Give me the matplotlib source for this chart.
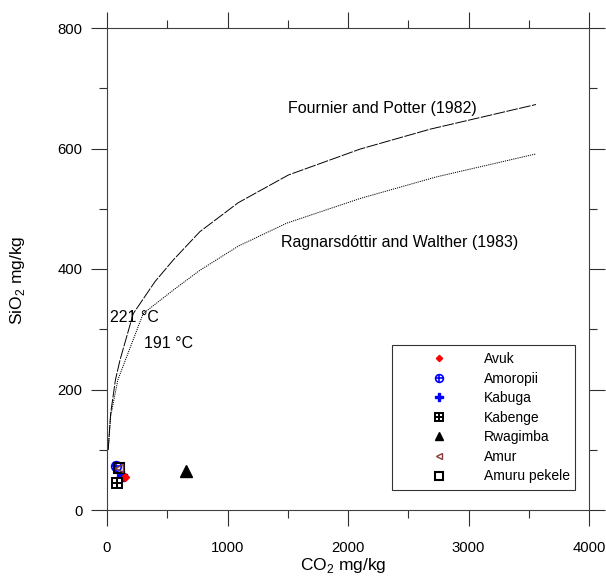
import matplotlib
matplotlib.use("Agg")
import matplotlib.pyplot as plt

plt.rcParams['font.family'] = ['Liberation Sans', 'DejaVu Sans']
plt.rcParams['mathtext.fontset'] = 'custom'
plt.rcParams['mathtext.rm'] = 'Liberation Sans'

# Curves (CO2 mg/kg vs SiO2 mg/kg)
fp_co2 = [10, 30, 70, 108, 218, 398, 550, 771, 1089, 1505, 2100, 2680, 3560]
fp_sio2 = [100, 160, 216, 249, 326, 379, 415, 462, 510, 556, 599, 632, 673]
rw_co2 = [10, 30, 90, 300, 550, 772, 1090, 1490, 2100, 2736, 3560]
rw_sio2 = [100, 155, 216, 326, 365, 398, 438, 476, 517, 553, 591]

# Sample points
avuk = (149, 54)
amoropii = (75, 73)
kabuga = (122, 57)
kabenge = (86, 45)
rwagimba = (656, 64)
amur = (100, 69)
amuru_pekele = (102, 69)

fig = plt.figure(figsize=(6.06, 5.76), dpi=100)
ax = fig.add_axes([107/606, 1-510/576, 482/606, 482/576])

ax.plot(fp_co2, fp_sio2, color='black', lw=0.7, dashes=(12, 1.5))
ax.plot(rw_co2, rw_sio2, color='black', lw=0.7, dashes=(1.2, 1.0))

ax.text(1502, 667, 'Fournier and Potter (1982)', fontsize=11.5, va='center', ha='left')
ax.text(1444, 444, 'Ragnarsdóttir and Walther (1983)', fontsize=11.5, va='center', ha='left')
ax.text(25, 319, '221 °C', fontsize=11.5, va='center', ha='left')
ax.text(310, 276, '191 °C', fontsize=11.5, va='center', ha='left')

h_kabuga, = ax.plot(*kabuga, linestyle='none', marker='P', ms=7, color='blue', mec='blue')
h_avuk, = ax.plot(*avuk, linestyle='none', marker='D', ms=4, color='red', mec='red')
h_amo1, = ax.plot(*amoropii, linestyle='none', marker='o', ms=7, mfc='none', mec='blue', mew=1.2)
h_amo2, = ax.plot(*amoropii, linestyle='none', marker='+', ms=7, color='blue', mew=1.2)
h_kab1, = ax.plot(*kabenge, linestyle='none', marker='s', ms=7.5, mfc='white', mec='black', mew=1.4)
h_kab2, = ax.plot(*kabenge, linestyle='none', marker='+', ms=7.5, color='black', mew=1.4)
h_rwa, = ax.plot(*rwagimba, linestyle='none', marker='^', ms=8, color='black')
h_amp, = ax.plot(*amuru_pekele, linestyle='none', marker='s', ms=7.5, mfc='none', mec='black', mew=1.5)
h_amur, = ax.plot(*amur, linestyle='none', marker='<', ms=6, mfc='none', mec='#8b3a3a', mew=1.0)

handles = [h_avuk, (h_amo1, h_amo2), h_kabuga, (h_kab1, h_kab2), h_rwa, h_amur, h_amp]
labels = ['Avuk', 'Amoropii', 'Kabuga', 'Kabenge', 'Rwagimba', 'Amur', 'Amuru pekele']
leg = ax.legend(handles, labels, loc='upper left', mode='expand',
                bbox_to_anchor=(0.591, 0.033, 0.380, 0.309), borderaxespad=0,
                fontsize=10, fancybox=False, frameon=True, edgecolor='black',
                handlelength=5.8, handletextpad=0.3, borderpad=0.5, labelspacing=0.4,
                numpoints=1, markerscale=0.8)
leg.get_frame().set_linewidth(0.8)

ax.set_xlim(0, 4000)
ax.set_ylim(0, 800)
ax.set_xticks([0, 1000, 2000, 3000, 4000])
ax.set_xticks([500, 1500, 2500, 3500], minor=True)
ax.set_yticks([0, 200, 400, 600, 800])
ax.set_yticks([100, 300, 500, 700], minor=True)

for s in ax.spines.values():
    s.set_color('#404040')
    s.set_linewidth(0.8)
ax.tick_params(which='both', direction='out', top=True, right=True, color='#303030', width=0.8)
ax.tick_params(which='major', length=11.5, labelsize=10.7)
ax.tick_params(which='minor', length=6)
ax.tick_params(axis='x', which='major', pad=10.5)
ax.tick_params(axis='y', which='major', pad=6)

ax.set_xlabel(r'CO$_\mathregular{2}$ mg/kg', fontsize=12.5)
ax.set_ylabel(r'SiO$_\mathregular{2}$ mg/kg', fontsize=12.5)
ax.xaxis.set_label_coords(0.49, -0.095)
ax.yaxis.set_label_coords(-0.165, 0.477)

fig.savefig('out.png', dpi=100)
